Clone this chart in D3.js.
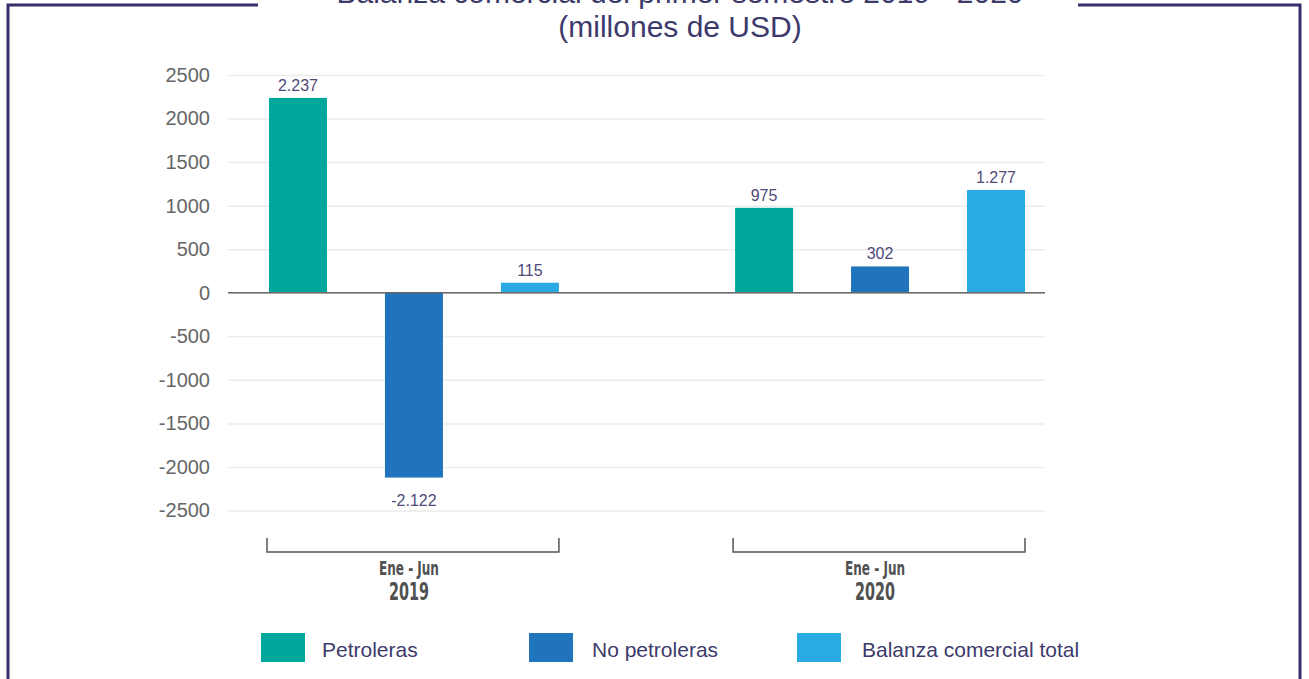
<!DOCTYPE html>
<html>
<head>
<meta charset="utf-8">
<script src="https://cdn.jsdelivr.net/npm/d3@7"></script>
<style>
  body { margin: 0; background: #fff; }
  svg { display: block; font-family: "Liberation Sans", Arial, sans-serif; }
</style>
</head>
<body>
<svg id="chart"></svg>
<script>
var periods = ['2019', '2020'];
var periodLabels = ['Ene - Jun', 'Ene - Jun'];

var series = ['Petroleras', 'No petroleras', 'Balanza comercial total'];
var colors = ['#00a89c', '#1f74bb', '#29aae2'];

// bar heights as drawn, one row per period
var values = [
  [2237, -2122, 115],
  [975, 302, 1180]
];
// labels as printed above/below the bars
var valueLabels = [
  ['2.237', '-2.122', '115'],
  ['975', '302', '1.277']
];

var yTicks = [2500, 2000, 1500, 1000, 500, 0, -500, -1000, -1500, -2000, -2500];

var titleLines = ['Balanza comercial del primer semestre 2019 - 2020', '(millones de USD)'];

var width = 1309,
  height = 679;

var svg = d3.select('#chart')
  .attr('width', width)
  .attr('height', height);

// frame
var frameColor = '#35306a';
svg.append('path')
  .attr('d', 'M258,5 H8 V679 M1078,5 H1300 V679')
  .attr('fill', 'none')
  .attr('stroke', frameColor)
  .attr('stroke-width', 3);

svg.append('g')
  .selectAll('text')
  .data(titleLines)
  .enter().append('text')
  .attr('x', 680)
  .attr('y', function(d, i) { return 3 + i * 34; })
  .attr('text-anchor', 'middle')
  .attr('fill', '#3d3a6b')
  .attr('font-size', 30)
  .text(function(d) { return d; });

var plotLeft = 228,
  plotRight = 1045;

var y = d3.scaleLinear()
  .domain([-2500, 2500])
  .range([510.5, 75]);

var x0 = d3.scaleBand()
  .domain(periods)
  .range([269, 1025])
  .paddingInner(0.378)
  .paddingOuter(0);

var x1 = d3.scaleBand()
  .domain(series)
  .range([0, x0.bandwidth()])
  .paddingInner(0.5)
  .paddingOuter(0);

var color = d3.scaleOrdinal()
  .domain(series)
  .range(colors);

// grid + tick labels
var yAxis = svg.append('g')
  .attr('transform', 'translate(' + plotLeft + ',0)')
  .call(d3.axisLeft(y)
    .tickValues(yTicks)
    .tickSize(-(plotRight - plotLeft))
    .tickPadding(18)
    .tickFormat(function(d) { return String(d); }));

yAxis.select('.domain').remove();
yAxis.selectAll('.tick line')
  .attr('stroke', '#ebebeb')
  .attr('stroke-width', 1.5);
yAxis.selectAll('.tick text')
  .attr('fill', '#666')
  .attr('font-size', 20)
  .attr('font-family', '"Liberation Sans", Arial, sans-serif');

// bars
var groups = svg.append('g')
  .selectAll('g')
  .data(periods)
  .enter().append('g')
  .attr('transform', function(d) { return 'translate(' + x0(d) + ',0)'; });

function rows(d, i) {
  return series.map(function(s, j) {
    return { series: s, value: values[i][j], label: valueLabels[i][j] };
  });
}

groups.selectAll('rect')
  .data(rows)
  .enter().append('rect')
  .attr('x', function(d) { return x1(d.series); })
  .attr('width', x1.bandwidth())
  .attr('y', function(d) { return y(Math.max(0, d.value)); })
  .attr('height', function(d) { return Math.abs(y(d.value) - y(0)); })
  .attr('fill', function(d) { return color(d.series); });

groups.selectAll('text.value')
  .data(rows)
  .enter().append('text')
  .attr('class', 'value')
  .attr('x', function(d) { return x1(d.series) + x1.bandwidth() / 2; })
  .attr('y', function(d) { return d.value >= 0 ? y(d.value) - 7 : y(d.value) + 28; })
  .attr('text-anchor', 'middle')
  .attr('fill', '#504a78')
  .attr('font-size', 16)
  .text(function(d) { return d.label; });

// zero line
svg.append('line')
  .attr('x1', plotLeft)
  .attr('x2', plotRight)
  .attr('y1', y(0))
  .attr('y2', y(0))
  .attr('stroke', '#666')
  .attr('stroke-width', 1.5);

// period brackets
var brackets = svg.append('g')
  .selectAll('g')
  .data(periods)
  .enter().append('g');

brackets.append('path')
  .attr('d', function(d) {
    var a = x0(d) - 2, b = x0(d) + x0.bandwidth();
    return 'M' + a + ',538 V552 H' + b + ' V538';
  })
  .attr('fill', 'none')
  .attr('stroke', '#555')
  .attr('stroke-width', 1.5);

brackets.append('text')
  .attr('x', function(d) { return x0(d) + x0.bandwidth() / 2 - 5; })
  .attr('y', 575)
  .attr('text-anchor', 'middle')
  .attr('fill', '#505050')
  .attr('font-size', 19)
  .attr('font-weight', 'bold')
  .attr('font-family', '"Liberation Sans Narrow", "DejaVu Sans Condensed", sans-serif')
  .attr('textLength', 60)
  .attr('lengthAdjust', 'spacingAndGlyphs')
  .text(function(d, i) { return periodLabels[i]; });

brackets.append('text')
  .attr('x', function(d) { return x0(d) + x0.bandwidth() / 2 - 5; })
  .attr('y', 600)
  .attr('text-anchor', 'middle')
  .attr('fill', '#505050')
  .attr('font-size', 25)
  .attr('font-weight', 'bold')
  .attr('font-family', '"Liberation Sans Narrow", "DejaVu Sans Condensed", sans-serif')
  .attr('textLength', 40)
  .attr('lengthAdjust', 'spacingAndGlyphs')
  .text(function(d) { return d; });

// legend
var legend = svg.append('g')
  .selectAll('g')
  .data(series)
  .enter().append('g')
  .attr('transform', function(d, i) { return 'translate(' + (261 + i * 268) + ',633)'; });

legend.append('rect')
  .attr('width', 44)
  .attr('height', 29)
  .attr('fill', function(d) { return color(d); });

legend.append('text')
  .attr('x', function(d, i) { return 61 + i * 2; })
  .attr('y', 24)
  .attr('fill', '#3d3a6b')
  .attr('font-size', 21)
  .text(function(d) { return d; });
</script>
</body>
</html>
